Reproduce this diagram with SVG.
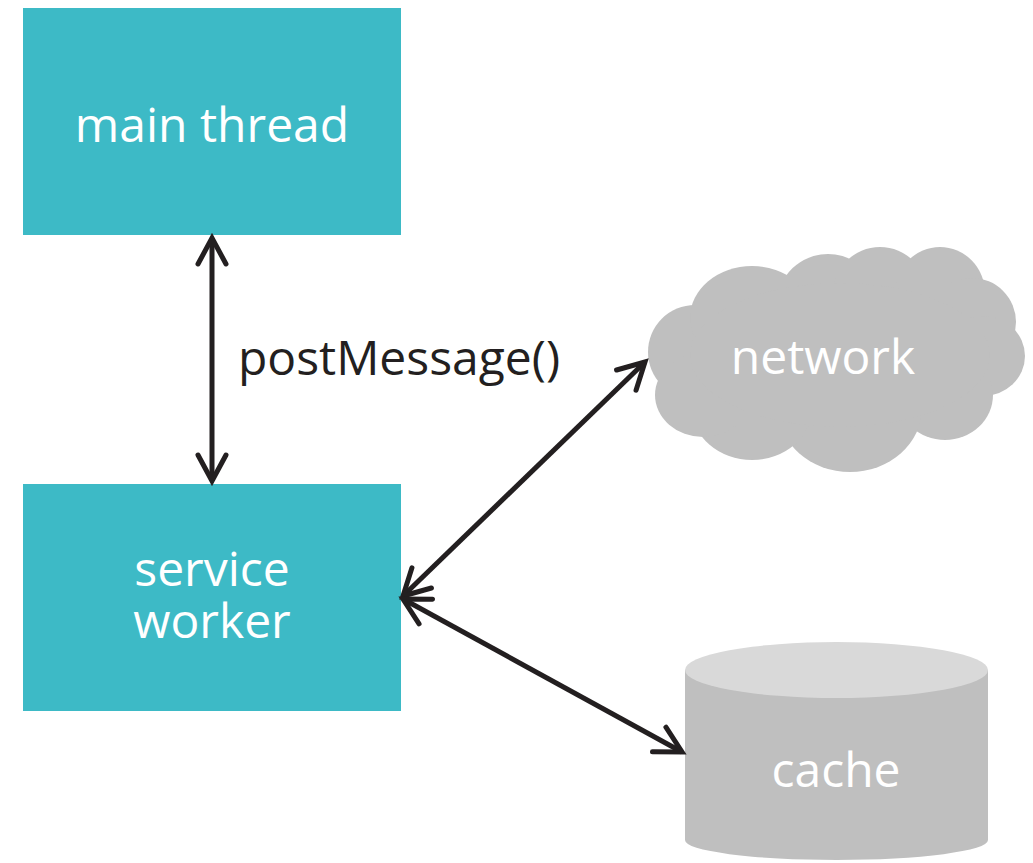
<svg xmlns="http://www.w3.org/2000/svg" width="1033" height="863" viewBox="0 0 1033 863">
  <style>
    .box { fill: #3dbac6; }
    .lbl { font-family: "Open Sans", "Liberation Sans", sans-serif; font-size: 48px; text-anchor: middle; fill: #ffffff; }
    .dark { fill: #231f20; }
    .conn { stroke: #231f20; stroke-width: 5; fill: none; }
    .cloud { fill: #bfbfbf; }
  </style>
  <defs>
    <marker id="chev" markerUnits="userSpaceOnUse" viewBox="-34 -20 40 40" refX="0" refY="0" markerWidth="40" markerHeight="40" orient="auto-start-reverse">
      <path d="M-26,-14 L0,0 L-26,14" fill="none" stroke="#231f20" stroke-width="5" stroke-linecap="round" stroke-linejoin="miter"/>
    </marker>
  </defs>
  <rect width="1033" height="863" fill="#ffffff"/>

  <g id="main-thread">
    <rect class="box" x="23" y="8" width="378" height="227"/>
    <text class="lbl" x="212" y="142">main thread</text>
  </g>

  <g id="service-worker">
    <rect class="box" x="23" y="484" width="378" height="227"/>
    <text class="lbl" x="212" y="586">service<tspan x="212" dy="52">worker</tspan></text>
  </g>

  <g id="network">
    <circle class="cloud" cx="695" cy="352" r="47"/>
    <ellipse class="cloud" cx="752" cy="318" rx="62" ry="52"/>
    <ellipse class="cloud" cx="828" cy="302" rx="50" ry="48"/>
    <ellipse class="cloud" cx="880" cy="296" rx="48" ry="49"/>
    <ellipse class="cloud" cx="940" cy="293" rx="45" ry="46"/>
    <circle class="cloud" cx="972" cy="322" r="44"/>
    <ellipse class="cloud" cx="983" cy="356" rx="42" ry="40"/>
    <ellipse class="cloud" cx="945" cy="395" rx="48" ry="45"/>
    <ellipse class="cloud" cx="850" cy="408" rx="72" ry="64"/>
    <ellipse class="cloud" cx="752" cy="408" rx="60" ry="52"/>
    <ellipse class="cloud" cx="703" cy="395" rx="48" ry="42"/>
    <ellipse class="cloud" cx="840" cy="355" rx="150" ry="72"/>
    <text class="lbl" x="823" y="374">network</text>
  </g>

  <g id="cache">
    <path d="M685,670 L685,840 A151.5,20 0 0 0 988,840 L988,670 Z" fill="#bfbfbf"/>
    <ellipse cx="836.5" cy="670" rx="151.5" ry="28" fill="#d9d9d9"/>
    <text class="lbl" x="836" y="787">cache</text>
  </g>

  <g id="connectors">
    <line class="conn" x1="212" y1="238" x2="212" y2="481" marker-start="url(#chev)" marker-end="url(#chev)"/>
    <line class="conn" x1="403" y1="596" x2="645" y2="362" marker-start="url(#chev)" marker-end="url(#chev)"/>
    <line class="conn" x1="403" y1="599" x2="682" y2="752" marker-start="url(#chev)" marker-end="url(#chev)"/>
    <text class="lbl dark" x="399" y="375">postMessage()</text>
  </g>
</svg>
